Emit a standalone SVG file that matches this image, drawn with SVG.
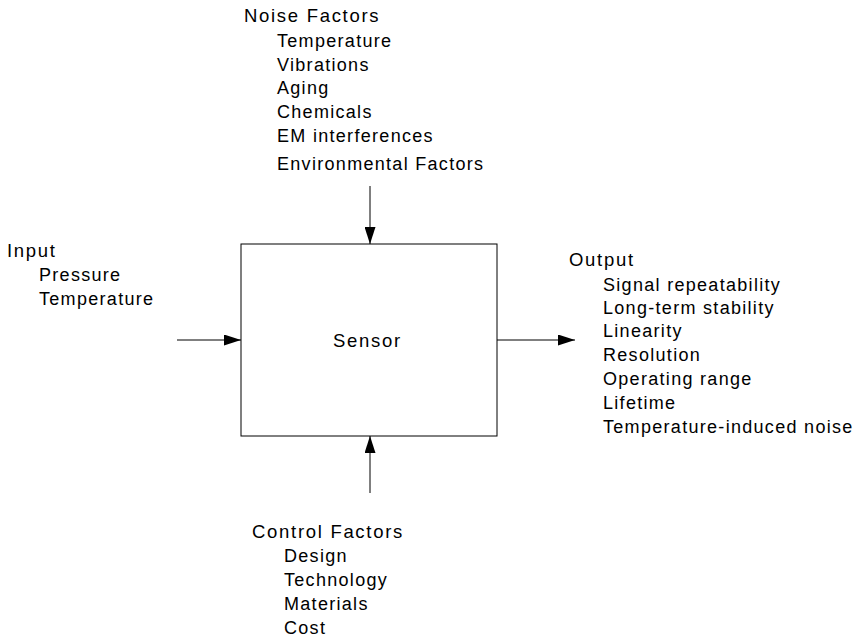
<svg xmlns="http://www.w3.org/2000/svg" width="857" height="639" viewBox="0 0 857 639">
<style>
text{font-family:"Liberation Sans",Arial,sans-serif;fill:#000}
.h{font-size:18.5px;letter-spacing:1.7px}
.s{font-size:18px;letter-spacing:1.3px}
.c{stroke:#000;stroke-width:1;fill:none}
</style>
<defs>
<marker id="ah" viewBox="0 0 17 11" refX="17" refY="5.5" markerWidth="17" markerHeight="11" markerUnits="userSpaceOnUse" orient="auto">
<path d="M0,0 L17,5.5 L0,11 Z" fill="#000"/>
</marker>
</defs>
<rect width="857" height="639" fill="#fff"/>
<g id="sensor">
<rect x="241" y="244" width="256" height="192" fill="#fff" stroke="#000" stroke-width="1"/>
<text class="h" x="333" y="347">Sensor</text>
</g>
<g id="noise">
<text class="h" x="244" y="22">Noise Factors</text>
<text class="s" x="277" y="47">Temperature</text>
<text class="s" x="277" y="71">Vibrations</text>
<text class="s" x="277" y="94">Aging</text>
<text class="s" x="277" y="118">Chemicals</text>
<text class="s" x="277" y="142">EM interferences</text>
<text class="s" x="277" y="170">Environmental Factors</text>
</g>
<g id="input">
<text class="h" x="7" y="257">Input</text>
<text class="s" x="39" y="281">Pressure</text>
<text class="s" x="39" y="305">Temperature</text>
</g>
<g id="output">
<text class="h" x="569" y="266">Output</text>
<text class="s" x="603" y="291">Signal repeatability</text>
<text class="s" x="603" y="314">Long-term stability</text>
<text class="s" x="603" y="337">Linearity</text>
<text class="s" x="603" y="361">Resolution</text>
<text class="s" x="603" y="385">Operating range</text>
<text class="s" x="603" y="409">Lifetime</text>
<text class="s" x="603" y="433">Temperature-induced noise</text>
</g>
<g id="control">
<text class="h" x="252" y="538">Control Factors</text>
<text class="s" x="284" y="562">Design</text>
<text class="s" x="284" y="586">Technology</text>
<text class="s" x="284" y="610">Materials</text>
<text class="s" x="284" y="634">Cost</text>
</g>
<g id="connectors">
<line class="c" x1="370" y1="186" x2="370" y2="244" marker-end="url(#ah)"/>
<line class="c" x1="370" y1="493" x2="370" y2="436" marker-end="url(#ah)"/>
<line class="c" x1="177" y1="340" x2="241" y2="340" marker-end="url(#ah)"/>
<line class="c" x1="497" y1="340" x2="575" y2="340" marker-end="url(#ah)"/>
</g>
</svg>
